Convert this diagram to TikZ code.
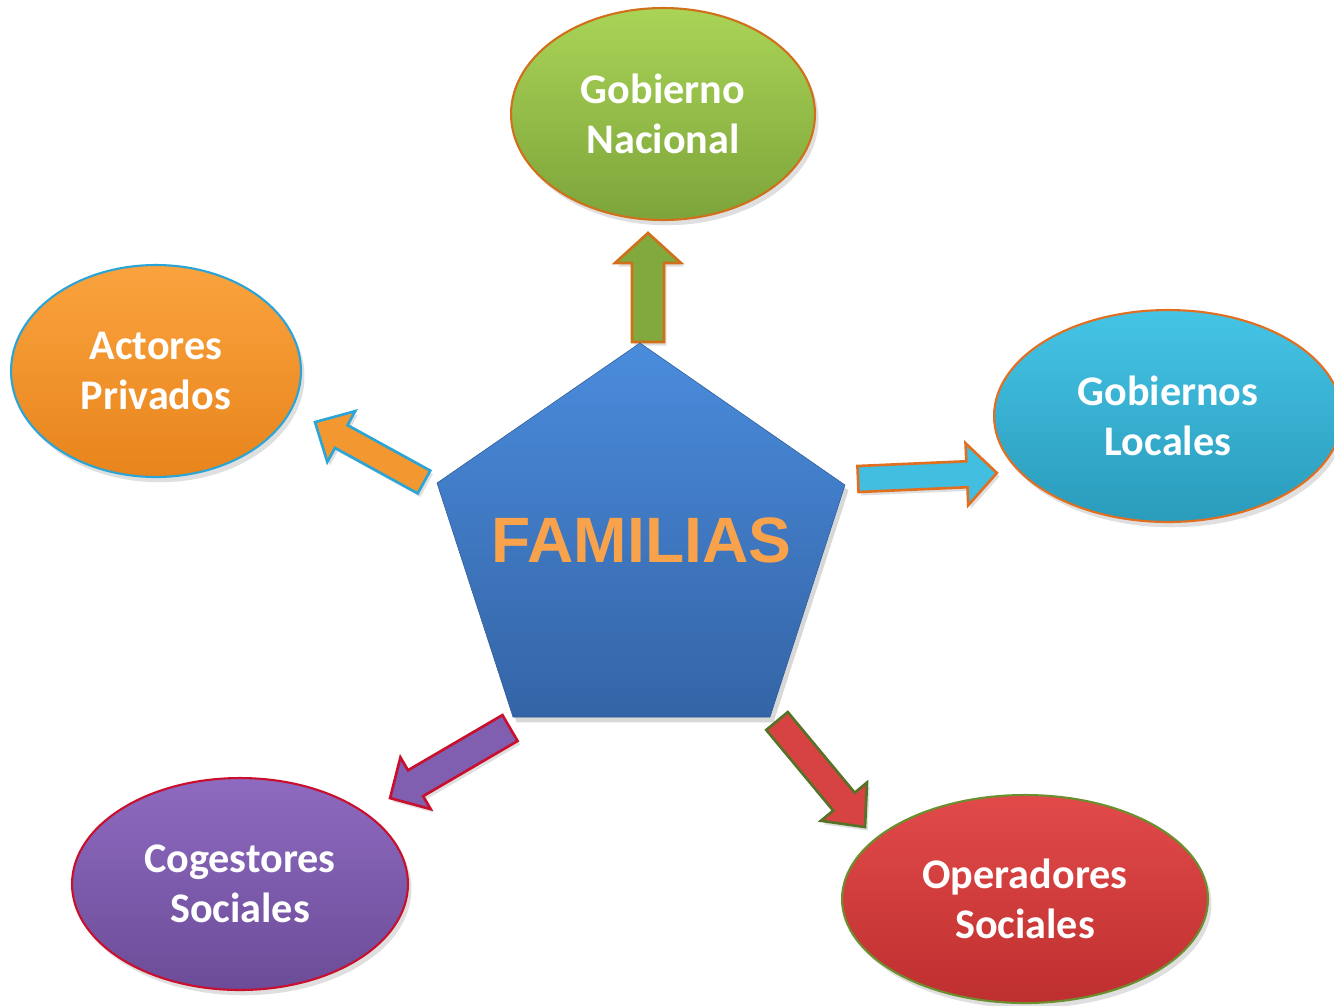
\documentclass[tikz,border=0pt]{standalone}
\usepackage{fontspec}
\newfontfamily\calib{Carlito}
\newfontfamily\arialf{Liberation Sans}
\usetikzlibrary{shapes.geometric,shadows}
\definecolor{gnTop}{HTML}{A9D457}
\definecolor{gnBot}{HTML}{7DA43A}
\definecolor{gnLine}{HTML}{D0701A}
\definecolor{apTop}{HTML}{FAA33E}
\definecolor{apBot}{HTML}{E8841C}
\definecolor{apLine}{HTML}{2BA5D6}
\definecolor{glTop}{HTML}{45C4E6}
\definecolor{glBot}{HTML}{2A9BBB}
\definecolor{glLine}{HTML}{E07020}
\definecolor{csTop}{HTML}{8E6AC0}
\definecolor{csBot}{HTML}{6C4C98}
\definecolor{csLine}{HTML}{C8102E}
\definecolor{osTop}{HTML}{E24A4A}
\definecolor{osBot}{HTML}{BE2F2F}
\definecolor{osLine}{HTML}{6B8E2F}
\definecolor{pTop}{HTML}{4A8CDC}
\definecolor{pBot}{HTML}{3464A6}
\definecolor{famOr}{HTML}{F9A24C}
\newcommand\blockarr[7]{% style, tail, angle, length, shaft half, head half, head length
  \begin{scope}[shift={#2}, rotate=#3]
    \draw[#1] (0,-#5) -- ({#4-#7},-#5) -- ({#4-#7},-#6) -- (#4,0)
      -- ({#4-#7},#6) -- ({#4-#7},#5) -- (0,#5) -- cycle;
  \end{scope}}
\begin{document}
\begin{tikzpicture}[x=0.02cm,y=-0.02cm,
  oval/.style={ellipse, inner sep=0pt, line width=1.2pt, align=center,
    text=white, font=\calib\bfseries\fontsize{24}{28.6}\selectfont,
    drop shadow={shadow xshift=2pt, shadow yshift=-3pt, opacity=0.25}},
  barr/.style={line width=1.5pt, line join=miter,
    drop shadow={shadow xshift=1.5pt, shadow yshift=-2pt, opacity=0.25}},
  pent/.style={top color=pTop, bottom color=pBot, draw=pBot!90!black, line width=0.3pt,
    drop shadow={shadow xshift=2pt, shadow yshift=-3pt, opacity=0.3}},
  famtxt/.style={font=\arialf\bfseries\fontsize{36.5}{40}\selectfont, inner sep=0pt}]
\useasboundingbox (0,0) rectangle (1334,1005);
\clip (0,0) rectangle (1334,1005);
\fill[white] (0,0) rectangle (1334,1005);

% ovals
\node[oval, minimum width=6.08cm, minimum height=4.24cm, top color=gnTop, bottom color=gnBot, draw=gnLine]
  (gn) at (663,114) {Gobierno\\Nacional};
\node[oval, minimum width=5.8cm, minimum height=4.24cm, top color=apTop, bottom color=apBot, draw=apLine]
  (ap) at (156,371) {Actores\\Privados};
\node[oval, minimum width=6.96cm, minimum height=4.24cm, top color=glTop, bottom color=glBot, draw=glLine]
  (gl) at (1168,416) {Gobiernos\\Locales};
\node[oval, minimum width=6.72cm, minimum height=4.24cm, top color=csTop, bottom color=csBot, draw=csLine]
  (cs) at (240,884) {Cogestores\\Sociales};
\node[oval, minimum width=7.32cm, minimum height=4.16cm, top color=osTop, bottom color=osBot, draw=osLine]
  (os) at (1025,899) {Operadores\\Sociales};

% block arrows
\blockarr{barr, fill=gnBot!90!gnTop, draw=gnLine}{(648,342)}{90}{109}{16}{33}{30}
\blockarr{barr, fill=glTop!85!glBot, draw=glLine}{(858,479)}{2.5}{139}{13}{31}{30}
\blockarr{barr, fill=apTop!60!apBot, draw=apLine}{(424,482)}{151.2}{124.4}{13}{29}{30}
\blockarr{barr, fill=csTop!60!csBot, draw=csLine}{(510,728)}{210.3}{138.9}{15}{30}{29.5}
\blockarr{barr, fill=osTop!70!osBot, draw=osLine!80!black}{(777,721)}{-50.3}{137.8}{14}{30}{33}

% pentagon
\path[pent] (640,343) -- (845,485) -- (770,717) -- (513,717) -- (437,483) -- cycle;
\node[famtxt, text=famOr] (fam) at (641.5,540.5) {FAMILIAS};
\end{tikzpicture}
\end{document}
